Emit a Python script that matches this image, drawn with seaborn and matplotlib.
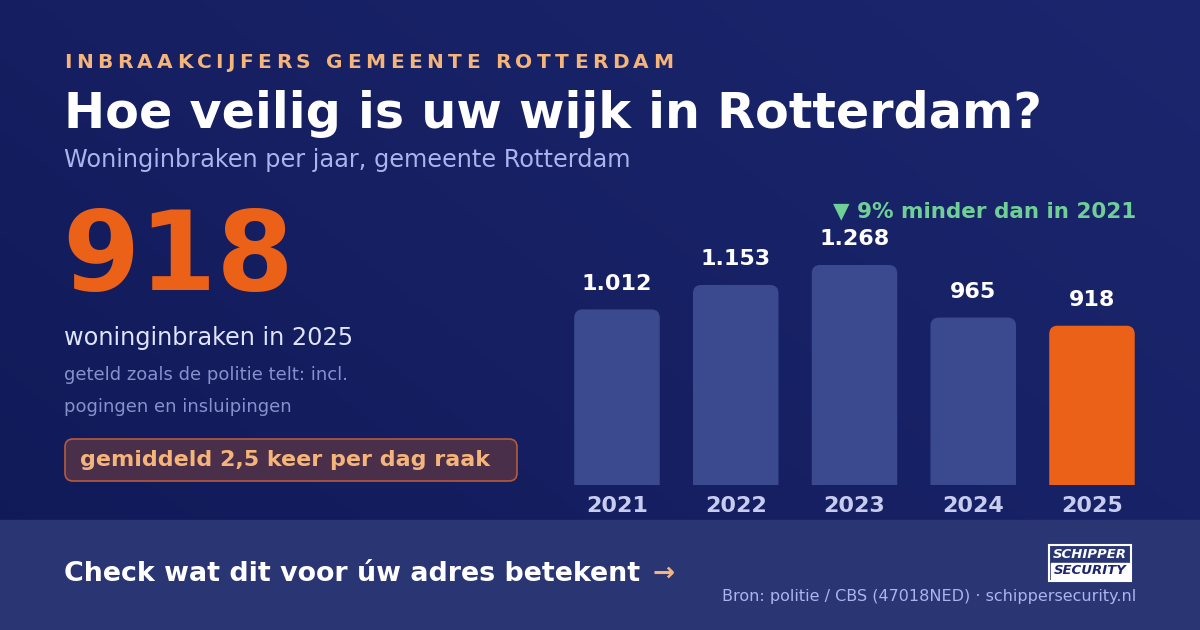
import numpy as np
import matplotlib
matplotlib.use("Agg")
import matplotlib.pyplot as plt
import seaborn as sns
from matplotlib.patches import FancyBboxPatch, Rectangle
from matplotlib.font_manager import FontProperties

# === Data ===
years = ["2021", "2022", "2023", "2024", "2025"]
burglaries = [1012, 1153, 1268, 965, 918]
value_labels = ["1.012", "1.153", "1.268", "965", "918"]

W, H = 1200, 630
BAR = "#3b4a8f"
ORANGE = "#ec6118"

sns.set_theme(style="white")
plt.rcParams["font.family"] = ["DejaVu Sans"]

fig = plt.figure(figsize=(12, 6.3), dpi=100)
renderer = fig.canvas.get_renderer()

# background gradient
bg = fig.add_axes([0, 0, 1, 1], zorder=-10)
grad = np.linspace(0, 1, 256)
c1 = np.array([0x10, 0x1a, 0x58]) / 255
c2 = np.array([0x1c, 0x26, 0x6e]) / 255
xx, yy = np.meshgrid(grad, grad)
t = (xx * 0.6 + (1 - yy) * 0.4)[..., None]
img = c1 * (1 - t) + c2 * t
bg.imshow(img, extent=[0, W, H, 0], aspect="auto")
bg.add_patch(Rectangle((0, 520), W, 110, color="#2a3574", zorder=2))
bg.set_xlim(0, W)
bg.set_ylim(H, 0)
bg.axis("off")

def txt(x, y, s, **kw):
    kw.setdefault("zorder", 5)
    bg.text(x, y, s, **kw)

# letter-spaced kicker, stretched to a given end position
def spaced(x0, x1, y, s, fs, **kw):
    fp = FontProperties(family="DejaVu Sans", weight="bold", size=fs)
    def width(p):
        return renderer.get_text_width_height_descent(p, fp, ismath=False)[0] if p else 0
    track = (x1 - x0 - width(s)) / (len(s) - 1)
    for i, ch in enumerate(s):
        txt(x0 + width(s[:i]) + i * track, y, ch, fontsize=fs, fontweight="bold",
            va="center", **kw)

spaced(64, 673, 62, "INBRAAKCIJFERS GEMEENTE ROTTERDAM", 14.5, color="#f5b47a")
txt(64, 114, "Hoe veilig is uw wijk in Rotterdam?", color="white",
    fontsize=35.5, fontweight="bold", va="center")
txt(64, 160, "Woninginbraken per jaar, gemeente Rotterdam", color="#aab4ee",
    fontsize=17.3, va="center")
txt(62, 260, "918", color=ORANGE, fontsize=80, fontweight="bold", va="center")
txt(64, 338, "woninginbraken in 2025", color="#dfe3fb", fontsize=17.3, va="center")
txt(64, 375, "geteld zoals de politie telt: incl.", color="#8791cc", fontsize=13, va="center")
txt(64, 407, "pogingen en insluipingen", color="#8791cc", fontsize=13, va="center")
bg.add_patch(FancyBboxPatch((65, 439), 452, 42, boxstyle="round,pad=0,rounding_size=8",
                            facecolor="#4a2f4a", edgecolor="#b65a3c", lw=1.2, zorder=4))
txt(80, 460, "gemiddeld 2,5 keer per dag raak", color="#f5b47a", fontsize=16,
    fontweight="bold", va="center")
txt(1136, 211, "▼ 9% minder dan in 2021", color="#6fcf97", fontsize=15.5,
    fontweight="bold", va="center", ha="right")
txt(64, 574, "Check wat dit voor úw adres betekent", color="white", fontsize=19.4,
    fontweight="bold", va="center")
txt(653, 574, "→", color="#f5b47a", fontsize=19, fontweight="bold", va="center")
txt(1136, 597, "Bron: politie / CBS (47018NED) · schippersecurity.nl", color="#aab4ee",
    fontsize=11.5, va="center", ha="right")
bg.add_patch(Rectangle((1049, 545), 82, 36, facecolor="none", edgecolor="white", lw=1.5, zorder=4))
txt(1090, 554, "SCHIPPER", color="white", fontsize=9.5, fontweight="bold", va="center",
    ha="center", style="italic")
bg.add_patch(Rectangle((1051, 563), 78, 16, facecolor="white", zorder=4))
txt(1090, 571, "SECURITY", color="#1c266e", fontsize=9.5, fontweight="bold", va="center",
    ha="center", style="italic", zorder=6)

# === bars ===
ax_h = 220 * 1400 / 1268
ax = fig.add_axes([557.6 / W, (H - 485) / H, 593.75 / W, ax_h / H])
ax.patch.set_alpha(0)
sns.barplot(x=years, y=burglaries, ax=ax, width=0.72, color=BAR)
ax.set_xlim(-0.5, 4.5)
ax.set_ylim(0, 1400)
ax.axis("off")
colors = [BAR, BAR, BAR, BAR, ORANGE]
for p, c, lab, yr in zip(list(ax.patches), colors, value_labels, years):
    x, w, h = p.get_x(), p.get_width(), p.get_height()
    p.remove()
    # extend below the baseline so only the top corners show as rounded
    bar = FancyBboxPatch((x, -200), w, h + 200, boxstyle="round,pad=0,rounding_size=0.07",
                         mutation_aspect=700, facecolor=c, edgecolor="none")
    ax.add_patch(bar)
    bar.set_clip_path(ax.patch)
    ax.text(x + w / 2, h + 90, lab, ha="center", va="bottom", color="white",
            fontsize=16, fontweight="bold")
    ax.text(x + w / 2, -120, yr, ha="center", va="center", color="#c8cdf0",
            fontsize=16, fontweight="bold", clip_on=False)

fig.savefig("out.png", dpi=100)
